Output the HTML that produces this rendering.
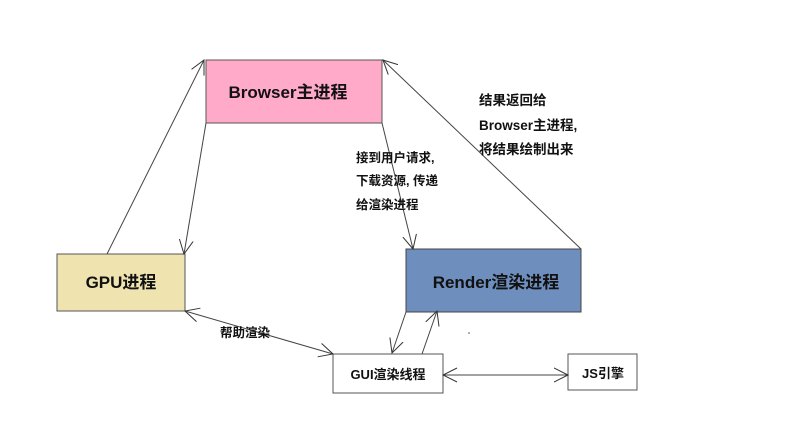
<!DOCTYPE html>
<html><head><meta charset="utf-8"><style>
body{margin:0;background:#fff;width:800px;height:433px;overflow:hidden}
svg text{font-family:"Liberation Sans","Noto Sans CJK SC",sans-serif;font-weight:bold;fill:#111}
</style></head><body>
<svg width="800" height="433" viewBox="0 0 800 433" xmlns="http://www.w3.org/2000/svg">
<defs>
<marker id="a" markerWidth="16" markerHeight="16" refX="14" refY="8" orient="auto" markerUnits="userSpaceOnUse">
<path d="M0,1 L14,8 L0,15" fill="none" stroke="#333" stroke-width="1"/></marker>
<marker id="b" markerWidth="16" markerHeight="16" refX="1" refY="8" orient="auto" markerUnits="userSpaceOnUse">
<path d="M15,1 L1,8 L15,15" fill="none" stroke="#333" stroke-width="1"/></marker>
</defs>
<rect x="206" y="60" width="176" height="63" fill="#ffaac8" stroke="#555"/>
<rect x="57" y="254" width="128" height="57" fill="#efe3b0" stroke="#555"/>
<rect x="406" y="249" width="175" height="63" fill="#6e8fbd" stroke="#444"/>
<rect x="333" y="354" width="110" height="39" fill="#fff" stroke="#555"/>
<rect x="568" y="354" width="69" height="36" fill="#fff" stroke="#555"/>
<g stroke="#444" stroke-width="1" fill="none">
<line x1="107" y1="254" x2="204" y2="60" marker-end="url(#a)"/>
<line x1="206" y1="123" x2="184" y2="254" marker-end="url(#a)"/>
<line x1="382" y1="123" x2="413" y2="249" marker-end="url(#a)"/>
<line x1="581" y1="249" x2="383" y2="60" marker-end="url(#a)"/>
<line x1="185" y1="311" x2="333" y2="354" marker-start="url(#b)" marker-end="url(#a)"/>
<line x1="406" y1="312" x2="392" y2="353" marker-end="url(#a)"/>
<line x1="422" y1="354" x2="437" y2="311" marker-end="url(#a)"/>
<line x1="443" y1="375" x2="568" y2="375" marker-start="url(#b)" marker-end="url(#a)"/>
</g>
<circle cx="469" cy="333" r="0.8" fill="#555"/>
<text x="288" y="98" font-size="17" text-anchor="middle">Browser主进程</text>
<text x="121" y="288" font-size="17" text-anchor="middle">GPU进程</text>
<text x="496" y="288" font-size="17" text-anchor="middle">Render渲染进程</text>
<text x="388" y="379" font-size="13" text-anchor="middle">GUI渲染线程</text>
<text x="603" y="378" font-size="13" text-anchor="middle">JS引擎</text>
<text x="220" y="337" font-size="12.5">帮助渲染</text>
<text x="356" y="162" font-size="12.5">接到用户请求,</text>
<text x="356" y="185" font-size="12.5">下载资源, 传递</text>
<text x="356" y="209" font-size="12.5">给渲染进程</text>
<text x="479" y="105" font-size="13.5">结果返回给</text>
<text x="479" y="130" font-size="13.5">Browser主进程,</text>
<text x="479" y="154" font-size="13.5">将结果绘制出来</text>
</svg>
</body></html>
